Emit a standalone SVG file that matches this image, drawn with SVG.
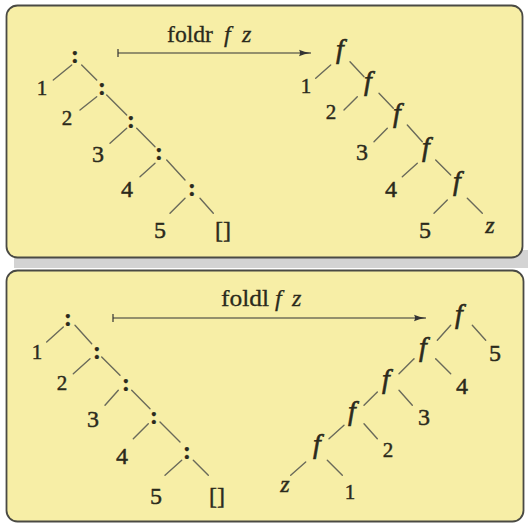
<svg xmlns="http://www.w3.org/2000/svg" width="528" height="524" viewBox="0 0 528 524">
<style>
.panel{fill:#f7eea6;stroke:#4a4a44;stroke-width:1.8}
.t{font-family:"Liberation Serif","Times New Roman",serif;fill:#2b2a1c;stroke:#2b2a1c;stroke-width:0.45;text-anchor:middle}
.n{font-size:24px}
.s{font-size:21px}
.c{font-size:25px;font-weight:bold;stroke-width:0.2}
.f{font-size:28px;font-style:italic;stroke-width:0.6}
.i{font-style:italic}
.title{font-family:"Liberation Serif","Times New Roman",serif;fill:#2b2a1c;stroke:#2b2a1c;stroke-width:0.3;font-size:24px}
.e line{stroke:#6a6a5a;stroke-width:1.4;stroke-linecap:round}
.arr{stroke:#333;stroke-width:1.2;fill:none}
</style>
<defs>
<marker id="ah" markerWidth="14" markerHeight="8" refX="12" refY="4" orient="auto" markerUnits="userSpaceOnUse">
<path d="M0,0.8 Q5,3 12,4 Q5,5 0,7.2 Q2,4 0,0.8 Z" fill="#333"/>
</marker>
</defs>
<rect x="0" y="0" width="528" height="524" fill="#ffffff"/>
<rect x="14" y="250" width="514" height="18" fill="#d3d3d3"/>
<rect class="panel" x="6.5" y="5.5" width="516" height="252" rx="11"/>
<rect class="panel" x="6.5" y="270.5" width="517" height="251" rx="11"/>

<g id="title-foldr">
<text class="title" y="42"><tspan x="167" textLength="46" lengthAdjust="spacingAndGlyphs">foldr</tspan><tspan class="i" x="224">f</tspan><tspan class="i" x="242">z</tspan></text>
</g>
<g id="title-foldl">
<text class="title" y="306"><tspan x="221" textLength="48" lengthAdjust="spacingAndGlyphs">foldl</tspan><tspan class="i" x="275">f</tspan><tspan class="i" x="292">z</tspan></text>
</g>

<g id="connectors">
<g id="arrows">
<line class="arr" x1="118" y1="53" x2="311" y2="53" marker-end="url(#ah)"/>
<line class="arr" x1="118" y1="49" x2="118" y2="57"/>
<line class="arr" x1="113" y1="318" x2="426" y2="318" marker-end="url(#ah)"/>
<line class="arr" x1="113" y1="314" x2="113" y2="322"/>
</g>
<g class="e" id="edges-top-left">
<line x1="71.7" y1="65" x2="53.3" y2="80"/>
<line x1="81.7" y1="65" x2="96.7" y2="80"/>
<line x1="96.7" y1="96.7" x2="80" y2="110"/>
<line x1="106.7" y1="95" x2="126.7" y2="115"/>
<line x1="126.7" y1="128.3" x2="110" y2="143.3"/>
<line x1="136.7" y1="128.3" x2="155" y2="146.7"/>
<line x1="155" y1="163.3" x2="140" y2="176.7"/>
<line x1="166.7" y1="160" x2="185" y2="180"/>
<line x1="185" y1="198.3" x2="170" y2="213.3"/>
<line x1="200" y1="198.3" x2="213.3" y2="213.3"/>
</g>
<g class="e" id="edges-top-right">
<line x1="330.7" y1="65" x2="315.7" y2="78.3"/>
<line x1="350" y1="61.7" x2="364" y2="76.7"/>
<line x1="357.3" y1="96.7" x2="344" y2="110"/>
<line x1="379" y1="93.3" x2="393.3" y2="108.3"/>
<line x1="387.3" y1="128.3" x2="374" y2="141.7"/>
<line x1="407.3" y1="125" x2="422.3" y2="141.7"/>
<line x1="417.3" y1="163.3" x2="402.3" y2="176.7"/>
<line x1="435.7" y1="160" x2="450.7" y2="175"/>
<line x1="447.3" y1="200" x2="434" y2="213.3"/>
<line x1="467.3" y1="198.3" x2="482.3" y2="213.3"/>
</g>
<g class="e" id="edges-bottom-left">
<line x1="63.3" y1="327" x2="46.7" y2="342"/>
<line x1="75" y1="325.3" x2="91.7" y2="343.7"/>
<line x1="90" y1="358.7" x2="73.3" y2="373.7"/>
<line x1="101.7" y1="357" x2="120" y2="375.3"/>
<line x1="118.3" y1="390.3" x2="105" y2="405.3"/>
<line x1="131.7" y1="390.3" x2="150" y2="408.7"/>
<line x1="148.3" y1="423.7" x2="133.3" y2="438.7"/>
<line x1="160" y1="422" x2="180" y2="442"/>
<line x1="181.7" y1="460.3" x2="165" y2="475.3"/>
<line x1="193.3" y1="460.3" x2="208.3" y2="475.3"/>
</g>
<g class="e" id="edges-bottom-right">
<line x1="450.7" y1="325.3" x2="437.3" y2="340.3"/>
<line x1="472.3" y1="325.3" x2="485.7" y2="340.3"/>
<line x1="414" y1="358.7" x2="399" y2="373.7"/>
<line x1="435.7" y1="358.7" x2="450.7" y2="373.7"/>
<line x1="377.3" y1="392" x2="364" y2="405.3"/>
<line x1="399" y1="390.3" x2="412.3" y2="405.3"/>
<line x1="344" y1="425.3" x2="329" y2="438.7"/>
<line x1="364" y1="423.7" x2="377.3" y2="438.7"/>
<line x1="305.7" y1="462" x2="290.7" y2="475.3"/>
<line x1="327.3" y1="460.3" x2="342.3" y2="475.3"/>
</g>
</g>

<g id="tree-top-left">
<g id="tl-c1"><text class="t c" x="75" y="63">:</text></g>
<g id="tl-c2"><text class="t c" x="102" y="95">:</text></g>
<g id="tl-c3"><text class="t c" x="131" y="128">:</text></g>
<g id="tl-c4"><text class="t c" x="159" y="160">:</text></g>
<g id="tl-c5"><text class="t c" x="192" y="196">:</text></g>
<g id="tl-1"><text class="t s" x="42" y="95">1</text></g>
<g id="tl-2"><text class="t s" x="67" y="125">2</text></g>
<g id="tl-3"><text class="t n" x="98" y="162">3</text></g>
<g id="tl-4"><text class="t n" x="127" y="197">4</text></g>
<g id="tl-5"><text class="t n" x="160" y="238">5</text></g>
<g id="tl-nil"><text class="t n" x="223" y="238">[]</text></g>
</g>

<g id="tree-top-right">
<g id="tr-f1"><text class="t f" x="340" y="58">f</text></g>
<g id="tr-f2"><text class="t f" x="368" y="90">f</text></g>
<g id="tr-f3"><text class="t f" x="397" y="122">f</text></g>
<g id="tr-f4"><text class="t f" x="426" y="156">f</text></g>
<g id="tr-f5"><text class="t f" x="457" y="190">f</text></g>
<g id="tr-1"><text class="t s" x="306" y="93">1</text></g>
<g id="tr-2"><text class="t s" x="331" y="119">2</text></g>
<g id="tr-3"><text class="t n" x="362" y="160">3</text></g>
<g id="tr-4"><text class="t n" x="391" y="197">4</text></g>
<g id="tr-5"><text class="t n" x="425" y="238">5</text></g>
<g id="tr-z"><text class="t n i" x="490" y="233">z</text></g>
</g>

<g id="tree-bottom-left">
<g id="bl-c1"><text class="t c" x="68" y="326">:</text></g>
<g id="bl-c2"><text class="t c" x="97" y="359">:</text></g>
<g id="bl-c3"><text class="t c" x="126" y="391">:</text></g>
<g id="bl-c4"><text class="t c" x="154" y="424">:</text></g>
<g id="bl-c5"><text class="t c" x="187" y="459">:</text></g>
<g id="bl-1"><text class="t s" x="37" y="359">1</text></g>
<g id="bl-2"><text class="t s" x="62" y="390">2</text></g>
<g id="bl-3"><text class="t n" x="93" y="427">3</text></g>
<g id="bl-4"><text class="t n" x="122" y="464">4</text></g>
<g id="bl-5"><text class="t n" x="156" y="504">5</text></g>
<g id="bl-nil"><text class="t n" x="217" y="504">[]</text></g>
</g>

<g id="tree-bottom-right">
<g id="br-f1"><text class="t f" x="459" y="323">f</text></g>
<g id="br-f2"><text class="t f" x="423" y="356">f</text></g>
<g id="br-f3"><text class="t f" x="386" y="388">f</text></g>
<g id="br-f4"><text class="t f" x="352" y="420">f</text></g>
<g id="br-f5"><text class="t f" x="317" y="453">f</text></g>
<g id="br-5"><text class="t n" x="495" y="361">5</text></g>
<g id="br-4"><text class="t n" x="462" y="394">4</text></g>
<g id="br-3"><text class="t n" x="424" y="425">3</text></g>
<g id="br-2"><text class="t s" x="388" y="457">2</text></g>
<g id="br-1"><text class="t s" x="350" y="499">1</text></g>
<g id="br-z"><text class="t n i" x="285" y="492">z</text></g>
</g>
</svg>
